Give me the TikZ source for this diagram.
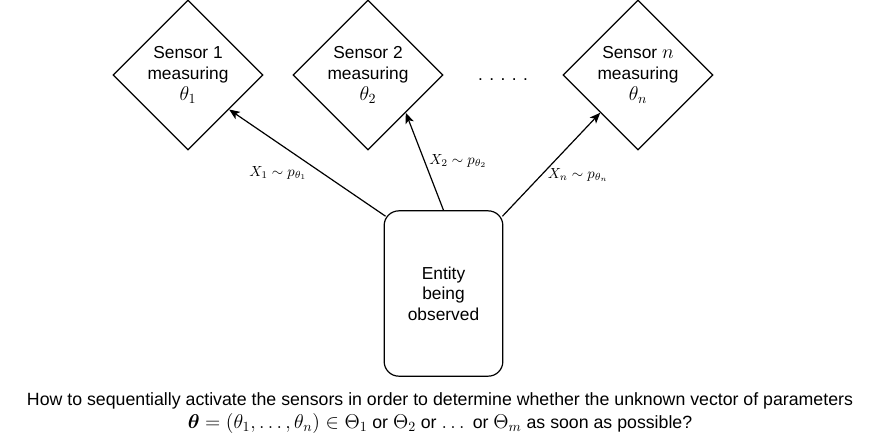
\RequirePackage{fix-cm}
\documentclass[tikz,border=0pt]{standalone}
\usepackage{amsmath,amssymb}
\usepackage{fontspec}
\setmainfont{Liberation Sans}
\usetikzlibrary{shapes.geometric,arrows.meta}

\newcommand{\bigmath}[1]{{\fontsize{15}{15}\selectfont$#1$}}

\begin{document}
\begin{tikzpicture}[x=0.75pt,y=-0.75pt,
    sensor/.style={draw, diamond, line width=0.9pt, inner sep=0pt, minimum width=112.5pt, minimum height=112.5pt, align=center, font=\fontsize{13}{15.5}\selectfont},
    entity/.style={draw, rectangle, rounded corners=11pt, line width=0.9pt, minimum width=89pt, minimum height=124pt, align=center, font=\fontsize{13}{15.5}\selectfont},
    obs/.style={line width=0.9pt, -{Stealth[length=8pt,width=6.5pt,inset=2pt]}},
    lbl/.style={font=\fontsize{11}{13}\selectfont}]

    \useasboundingbox (0,0) rectangle (887,437);

    \node[sensor] (s1) at (188,75) {Sensor 1\\measuring\\\bigmath{\theta_1}};
    \node[sensor] (s2) at (368,75) {Sensor 2\\measuring\\\bigmath{\theta_2}};
    \node[sensor] (sn) at (638,75) {Sensor \bigmath{n}\\measuring\\\bigmath{\theta_n}};
    \node[anchor=base, font=\fontsize{13}{15.5}\selectfont] (dots) at (503,80) {. . . . .};

    \node[entity] (box) at (443.5,293.5) {Entity\\being\\observed};

    \draw[obs] ([shift={(2,6)}]box.north west) -- (s1.-40);
    \draw[obs] (box.north) -- (s2.south east);
    \draw[obs] ([shift={(-1,6)}]box.north east) -- (sn.south west);

    \node[lbl] (x1) at (278,173) {$X_1 \sim p_{\theta_1}$};
    \node[lbl] (x2) at (458,161) {$X_2 \sim p_{\theta_2}$};
    \node[lbl] (xn) at (578,175) {$X_n \sim p_{\theta_n}$};

    \node[align=center, font=\fontsize{13.3}{17}\selectfont] (q) at (440,413)
        {How to sequentially activate the sensors in order to determine whether the unknown vector of parameters\\
         \bigmath{\boldsymbol{\theta}=(\theta_1,\dots,\theta_n)\in\Theta_1} or \bigmath{\Theta_2} or \bigmath{\dots} or \bigmath{\Theta_m} as soon as possible?};

\end{tikzpicture}
\end{document}
